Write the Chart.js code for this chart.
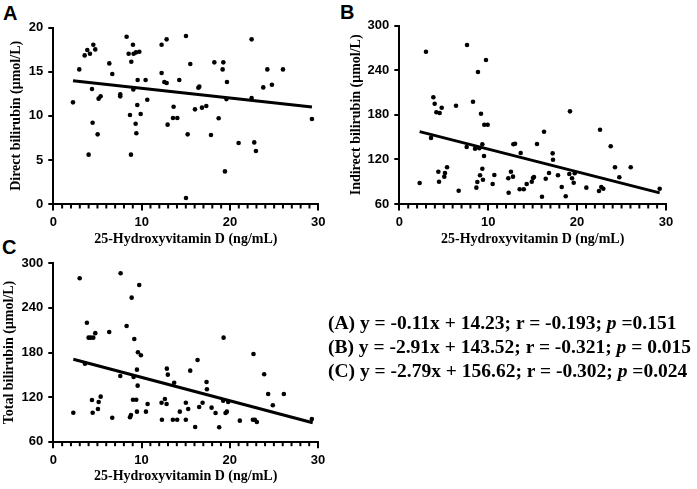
<!DOCTYPE html>
<html>
<head>
<meta charset="utf-8">
<script src="https://cdn.jsdelivr.net/npm/chart.js@4.4.1/dist/chart.umd.min.js"></script>
<style>
  body { margin: 0; background: #fff; width: 697px; height: 489px; position: relative; overflow: hidden; }
  canvas { position: absolute; }
  .letter { position: absolute; font: bold 20px "Liberation Sans", Arial, sans-serif; line-height: 20px; }
  #eq { position: absolute; left: 328px; top: 311px; font: bold 19.5px "Liberation Serif", "Times New Roman", serif; line-height: 24px; white-space: nowrap; }
</style>
</head>
<body>
<div class="letter" style="left:3px;top:3px">A</div>
<div class="letter" style="left:340px;top:2px">B</div>
<div class="letter" style="left:2px;top:237px">C</div>

<canvas id="chartA" width="340" height="250" style="left:0;top:0"></canvas>
<canvas id="chartB" width="352" height="250" style="left:345px;top:0"></canvas>
<canvas id="chartC" width="340" height="239" style="left:0;top:250px"></canvas>

<div id="eq">
  <div>(A) y = -0.11x + 14.23; r = -0.193; <i>p</i> =0.151</div>
  <div>(B) y = -2.91x + 143.52; r = -0.321; <i>p</i> = 0.015</div>
  <div>(C) y = -2.79x + 156.62; r = -0.302; <i>p</i> =0.024</div>
</div>

<script>
// 25-Hydroxyvitamin D (x) vs bilirubin (y)
const xA = [2.23, 2.94, 3.55, 3.85, 4.15, 4.53, 4.75, 4.38, 4.0, 4.45, 5.02, 5.13, 5.36, 6.34, 6.68, 7.58, 7.58,
  8.30, 8.53, 8.83, 9.02, 9.09, 9.36, 9.74, 9.06, 9.55, 8.68, 9.51, 9.89, 9.32, 9.40, 8.79, 10.45, 10.64,
  12.26, 12.83, 12.26, 12.57, 12.83, 14.26, 13.62, 13.55, 14.04, 12.94, 15.02, 15.51, 15.21, 15.02,
  16.42, 16.53, 16.04, 16.83, 17.32, 17.85, 18.23, 19.25, 19.17, 19.66, 19.6, 18.72, 19.43,
  20.98, 22.45, 22.45, 22.75, 22.94, 24.23, 23.77, 24.75, 26.0, 29.28];
const yA = [11.53, 15.27, 16.86, 17.47, 17.05, 18.07, 17.54, 13.04, 5.6, 9.22, 7.9, 11.95, 12.21, 15.95, 14.74, 12.44, 12.21,
  18.98, 17.05, 16.14, 18.07, 17.05, 17.2, 17.28, 13.0, 14.06, 10.09, 11.23, 10.21, 9.11, 8.02, 5.6, 14.06, 11.83,
  18.07, 18.68, 14.86, 13.84, 13.72, 14.06, 11.04, 9.75, 9.75, 9.0, 19.05, 15.88, 7.9, 0.68,
  13.19, 13.31, 10.74, 10.93, 11.12, 7.83, 16.07, 16.07, 15.27, 13.84, 11.9, 9.72, 3.7,
  6.92, 18.68, 12.02, 6.99, 6.01, 15.27, 13.23, 13.53, 15.27, 9.64];

const xB = [2.29, 3.0, 3.57, 3.83, 3.98, 4.17, 4.54, 4.77, 4.39, 4.47, 5.06, 5.14, 5.37, 6.38, 6.68, 7.62, 7.58,
  8.29, 8.52, 8.67, 8.78, 8.85, 9.0, 9.08, 9.19, 9.34, 9.34, 9.41, 9.53, 9.56, 9.94, 9.75, 10.5, 10.69,
  12.26, 12.3, 12.56, 12.79, 12.83, 13.02, 13.65, 13.54, 14.0, 14.33, 14.9, 15.04, 15.15, 15.49,
  16.28, 16.05, 16.47, 16.84, 17.25, 17.29, 17.85, 18.27, 18.72, 19.2, 19.12, 19.43, 19.62, 19.73,
  21.04, 22.46, 22.58, 22.72, 22.95, 23.78, 24.26, 24.75, 26.03, 29.29];
const yB = [88.3, 265, 149, 203.6, 195, 183.4, 182.5, 189.6, 103.5, 90, 96.8, 101.7, 109.4, 192.3, 77.9, 274, 136.7,
  197.7, 134.4, 82, 89.6, 237.7, 135, 98.6, 181.5, 140.4, 107.5, 92.7, 124.6, 166.7, 166.7, 253.8, 87, 99,
  94.6, 75.2, 103.5, 96.8, 140.4, 141.2, 128.6, 79.8, 79.8, 87, 90, 95, 96.3, 140.8,
  157.3, 69.8, 94, 101.7, 128.2, 119.6, 98.6, 82.9, 70.4, 184.7, 100.4, 94.6, 88.7, 101.3,
  82, 77.5, 160, 82.9, 80.6, 137.7, 109.4, 96, 109.4, 80.6];

const xC = [2.27, 2.99, 3.59, 3.81, 4.0, 4.23, 4.53, 4.76, 4.38, 4.46, 5.14, 5.06, 5.37, 6.34, 6.68, 7.63, 7.59,
  8.31, 8.88, 8.69, 8.8, 9.03, 9.18, 9.1, 9.4, 9.48, 9.56, 9.48, 9.59, 9.93, 9.74, 10.5, 10.69,
  12.31, 12.27, 12.65, 12.84, 12.87, 12.98, 13.7, 13.55, 14.04, 14.34, 15.02, 15.02, 15.29, 15.52,
  16.35, 16.08, 16.53, 16.92, 17.37, 17.41, 17.94, 18.39, 18.8, 19.3, 19.25, 19.52, 19.67, 19.82,
  21.14, 22.62, 22.69, 22.84, 23.07, 23.9, 24.35, 24.88, 26.13, 29.3];
const yC = [99, 279.9, 165, 220, 200, 200, 200, 206, 116, 99, 113.4, 104, 120.6, 207.6, 92.3, 286.6, 148.4,
  215.7, 253.8, 92.8, 96, 116.5, 198.2, 147, 116.5, 156.9, 135.4, 100.4, 180.3, 176.3, 270.9, 100.4, 110.7,
  89.6, 112.5, 117.5, 110.7, 158.3, 150.2, 139.4, 89.6, 89.6, 100.4, 89.6, 112.5, 104, 155.6,
  170, 79.8, 106.7, 112.5, 140.4, 130.5, 105.8, 98.6, 79.4, 200, 115.2, 98.6, 100.4, 113.4,
  88.3, 89.6, 178, 89.6, 86.5, 150.7, 124.2, 109, 124.2, 90.5];

// regression lines as drawn (end points)
const fitXA = [2.23, 29.28], fitYA = [13.98, 11.01];
const fitXB = [2.29, 29.29], fitYB = [157.4, 75.0];
const fitXC = [2.27, 29.4], fitYC = [171.0, 85.4];

const tickFont = { family: '"Liberation Sans", Arial, sans-serif', size: 13, weight: 'bold' };
const titleFont = { family: '"Liberation Serif", "Times New Roman", serif', size: 14, weight: 'bold' };

// small ticks every 1 unit on the x axis
const minorTicks = {
  id: 'minorTicks',
  afterDraw(chart) {
    const x = chart.scales.x, ctx = chart.ctx;
    ctx.save();
    ctx.strokeStyle = '#000';
    ctx.lineWidth = 2;
    for (let v = 1; v < 30; v++) {
      if (v % 10 === 0) continue;
      const px = x.getPixelForValue(v);
      ctx.beginPath();
      ctx.moveTo(px, x.top);
      ctx.lineTo(px, x.top + 4.5);
      ctx.stroke();
    }
    ctx.restore();
  }
};

function pts(xs, ys) {
  return xs.map((v, i) => ({ x: v, y: ys[i] }));
}

function makePanel(id, xs, ys, fx, fy, o) {
  new Chart(document.getElementById(id), {
    type: 'scatter',
    data: {
      datasets: [{
        data: pts(xs, ys),
        backgroundColor: '#000',
        borderWidth: 0,
        pointRadius: 2.3,
        clip: false,
      }, {
        type: 'line',
        data: pts(fx, fy),
        borderColor: '#000',
        borderWidth: 3,
        pointRadius: 0,
        fill: false,
      }],
    },
    options: {
      responsive: false,
      animation: false,
      layout: { padding: o.pad },
      plugins: { legend: { display: false }, tooltip: { enabled: false } },
      scales: {
        x: {
          type: 'linear',
          min: 0,
          max: 30,
          afterFit: (s) => { s.height = o.xHeight; },
          ticks: { stepSize: 10, color: '#000', font: tickFont, padding: 4 },
          grid: { drawOnChartArea: false, color: '#000', lineWidth: 2, tickLength: 6.5 },
          border: { color: '#000', width: 2 },
          title: { display: true, text: '25-Hydroxyvitamin D (ng/mL)', color: '#000', font: titleFont,
                   padding: { top: 0, bottom: o.xTitlePad } },
        },
        y: {
          min: o.yMin,
          max: o.yMax,
          afterFit: (s) => { s.width = o.yWidth; },
          ticks: { stepSize: o.yStep, color: '#000', font: tickFont, padding: 5 },
          grid: { drawOnChartArea: false, color: '#000', lineWidth: 2, tickLength: 5 },
          border: { color: '#000', width: 2 },
          title: { display: true, text: o.yTitle, color: '#000', font: titleFont,
                   padding: { top: o.yTitlePad, bottom: 0 } },
        },
      },
    },
    plugins: [minorTicks],
  });
}

makePanel('chartA', xA, yA, fitXA, fitYA, {
  yMin: 0, yMax: 20, yStep: 5, yTitle: 'Direct bilirubin (μmol/L)',
  pad: { left: 0, right: 21.7, top: 27.7, bottom: 0 }, yWidth: 53.3, xHeight: 46,
  yTitlePad: 7.6, xTitlePad: 2.6,
});
makePanel('chartB', xB, yB, fitXB, fitYB, {
  yMin: 60, yMax: 300, yStep: 60, yTitle: 'Indirect bilirubin (μmol/L)',
  pad: { left: 0, right: 31, top: 25.7, bottom: 0 }, yWidth: 54.3, xHeight: 46,
  yTitlePad: 3.3, xTitlePad: 2.6,
});
makePanel('chartC', xC, yC, fitXC, fitYC, {
  yMin: 60, yMax: 300, yStep: 60, yTitle: 'Total bilirubin (μmol/L)',
  pad: { left: 0, right: 22, top: 13.3, bottom: 0 }, yWidth: 53.3, xHeight: 47.3,
  yTitlePad: 0.6, xTitlePad: 3.9,
});
</script>
</body>
</html>
